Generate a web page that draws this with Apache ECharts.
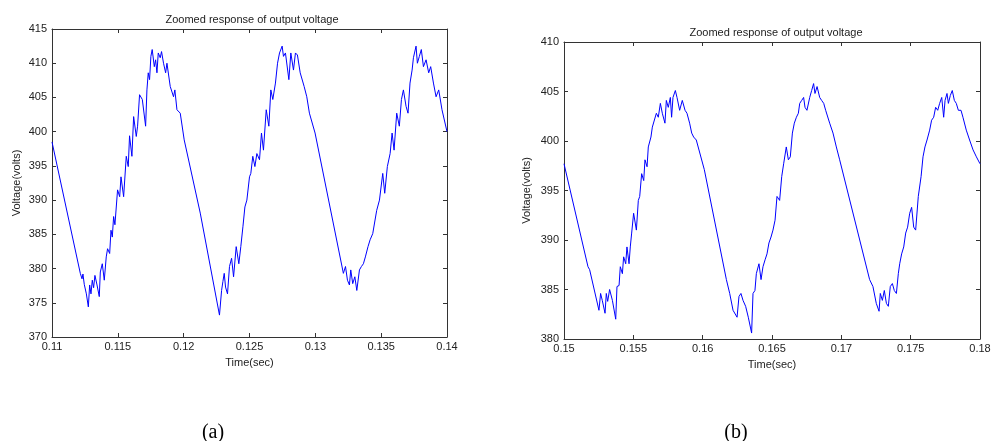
<!DOCTYPE html>
<html>
<head>
<meta charset="utf-8">
<script src="https://cdn.jsdelivr.net/npm/echarts@6/dist/echarts.min.js"></script>
<style>
html,body{margin:0;padding:0;background:#fff;}
#c{width:995px;height:441px;}
</style>
</head>
<body>
<div id="c"></div>
<script>
// ---- Data ----
const chartTitle = 'Zoomed response of output voltage';
const xName = 'Time(sec)';
const yName = 'Voltage(volts)';
const captions = ['(a)', '(b)'];

const leftTime = [0.11,0.11215,0.11228,0.11235,0.11245,0.11261,0.11276,0.11286,0.11296,0.11306,0.11316,0.11326,0.11342,0.11359,0.11367,0.11382,0.11397,0.11412,0.11422,0.11438,0.11448,0.11458,0.11468,0.11478,0.11498,0.11514,0.11524,0.11544,0.11564,0.11579,0.11589,0.11607,0.1162,0.1164,0.1165,0.11665,0.11686,0.11711,0.11721,0.11731,0.11741,0.11751,0.11761,0.11777,0.11787,0.11797,0.11807,0.11822,0.11832,0.11847,0.11863,0.11873,0.11898,0.11923,0.11933,0.11949,0.11974,0.12004,0.12126,0.12272,0.12288,0.12298,0.12308,0.12318,0.12333,0.12348,0.12364,0.12379,0.12399,0.12419,0.12434,0.1245,0.12465,0.1248,0.125,0.1251,0.12525,0.12541,0.12556,0.12576,0.12591,0.12606,0.12627,0.12647,0.12662,0.12677,0.12697,0.12713,0.12728,0.12748,0.12758,0.12773,0.12799,0.12814,0.12834,0.12849,0.12864,0.12885,0.129,0.12915,0.12935,0.12955,0.12998,0.13213,0.13229,0.13244,0.13259,0.13269,0.13284,0.133,0.13315,0.13335,0.1335,0.13365,0.1338,0.134,0.13416,0.13436,0.13451,0.13466,0.13487,0.13512,0.13527,0.13547,0.13568,0.13583,0.13598,0.13618,0.13638,0.13654,0.13669,0.13689,0.13704,0.13719,0.13735,0.13745,0.13765,0.13775,0.1379,0.13805,0.13821,0.13841,0.13861,0.13876,0.13897,0.13917,0.13937,0.13962,0.14];
const leftVolt = [398.5,379.3,378.5,379.2,377.7,376.3,374.4,377.6,376.3,378.3,377.2,379.0,377.6,375.9,379.5,380.7,378.3,381.7,382.9,382.2,385.6,384.6,387.6,386.4,391.5,390.5,393.4,390.5,396.4,394.9,399.4,396.4,402.2,399.3,400.8,405.4,404.7,400.8,406.1,408.6,407.6,411.0,412.0,409.5,410.5,408.6,411.5,410.8,411.7,410.0,408.6,410.0,406.6,405.1,406.1,403.2,402.7,398.8,388.1,373.2,376.8,378.1,379.3,377.3,376.3,380.3,381.5,378.8,383.2,380.7,383.2,386.1,389.0,390.0,393.4,393.9,396.4,394.9,396.8,395.9,399.8,397.3,403.2,400.8,406.1,404.7,407.1,410.0,411.5,412.5,411.0,411.5,407.6,411.5,409.0,411.5,411.2,408.6,408.8,406.6,405.1,402.7,399.8,379.3,380.3,378.3,377.6,379.8,377.8,378.8,376.8,379.8,380.3,380.7,381.7,383.2,384.2,385.1,386.8,388.5,390.0,393.9,391.0,394.9,396.8,399.8,397.3,402.7,400.8,404.7,406.1,403.7,402.7,407.1,409.0,410.8,412.5,410.0,411.0,412.0,409.5,410.5,408.6,409.5,407.1,405.1,406.1,403.2,400.0];

const rightTime = [0.15,0.15173,0.15185,0.15252,0.15264,0.15276,0.15296,0.15305,0.15315,0.15329,0.15349,0.15373,0.15382,0.15397,0.15406,0.15421,0.1543,0.15445,0.15454,0.15469,0.15478,0.15488,0.15502,0.15522,0.15536,0.15546,0.1556,0.15575,0.15584,0.15599,0.15608,0.15627,0.15637,0.15651,0.15666,0.1568,0.15695,0.15709,0.15728,0.15738,0.15752,0.15767,0.15776,0.15786,0.15803,0.15815,0.15834,0.15853,0.15873,0.15887,0.15906,0.15921,0.15935,0.15954,0.16012,0.16171,0.16195,0.16219,0.16248,0.16262,0.16276,0.16291,0.1631,0.16329,0.16353,0.16363,0.16377,0.16387,0.16406,0.16421,0.16435,0.1645,0.16464,0.16478,0.16493,0.16507,0.16522,0.16536,0.16555,0.1657,0.16584,0.16603,0.16618,0.16632,0.16647,0.16661,0.16676,0.1669,0.167,0.16714,0.16728,0.16738,0.16752,0.16772,0.16786,0.168,0.1681,0.16825,0.16844,0.16858,0.16873,0.16887,0.16916,0.1694,0.16964,0.16988,0.17204,0.17228,0.17252,0.17272,0.17281,0.17296,0.1731,0.17325,0.17339,0.17353,0.17368,0.17382,0.17397,0.17411,0.17421,0.17435,0.1745,0.17464,0.17478,0.17493,0.17507,0.17522,0.17536,0.17555,0.17575,0.17589,0.17603,0.17618,0.17637,0.17651,0.17666,0.1768,0.17695,0.17709,0.17724,0.17738,0.17748,0.17762,0.17772,0.17786,0.178,0.17815,0.17829,0.17844,0.17863,0.17877,0.17901,0.17925,0.1795,0.17974,0.18];
const rightVolt = [397.7,387.3,387.0,382.9,384.6,383.9,382.6,384.6,383.8,385.0,383.9,382.0,385.3,385.4,387.3,386.6,388.3,387.6,389.3,387.6,389.3,390.7,392.7,391.0,394.0,394.4,396.7,396.0,398.1,397.4,399.4,400.4,401.4,401.4,402.8,402.4,403.8,402.8,401.8,404.1,403.4,404.4,402.4,404.4,405.1,404.4,403.1,404.1,403.1,402.8,401.8,400.8,400.4,400.1,397.1,386.0,384.6,382.9,382.2,384.3,384.6,383.9,383.3,382.2,380.6,384.6,384.9,386.6,387.6,386.0,387.3,388.0,388.6,389.7,390.3,391.0,392.0,394.4,394.0,396.4,397.7,399.4,398.1,398.4,400.8,401.8,402.4,402.8,403.8,404.1,404.4,403.4,403.1,404.4,405.1,405.8,404.8,405.5,404.4,404.1,403.8,403.1,401.8,400.8,399.4,398.1,386.0,385.3,383.6,382.8,384.6,383.9,384.9,383.6,383.3,385.3,385.6,384.9,384.6,386.6,387.6,388.6,389.3,390.7,391.3,392.7,393.3,391.3,391.0,394.4,396.4,398.4,399.4,400.1,401.1,402.1,402.4,403.4,403.1,403.8,404.4,402.4,404.1,404.8,403.8,404.6,405.1,404.1,403.8,403.1,403.1,402.4,401.1,400.1,399.1,398.4,397.7];

const leftXTicks = {min: 0.11, max: 0.14, step: 0.005};
const leftYTicks = {min: 370, max: 415, step: 5};
const rightXTicks = {min: 0.15, max: 0.18, step: 0.005};
const rightYTicks = {min: 380, max: 410, step: 5};

// ---- Chart ----
const FONT = 'Liberation Sans, Arial, sans-serif';
const labelColor = '#222';
const axisColor = '#333';

function zip(a, b) { return a.map((v, i) => [v, b[i]]); }
function fmtX(v) { return String(parseFloat(v.toFixed(3))); }

function xAxes(gi, t) {
  const base = {
    type: 'value', gridIndex: gi, min: t.min, max: t.max, interval: t.step,
    splitLine: {show: false},
    axisLine: {show: true, onZero: false, lineStyle: {color: axisColor, width: 1}},
    axisTick: {show: true, inside: true, length: 4, lineStyle: {color: axisColor}}
  };
  return [
    Object.assign({}, base, {
      position: 'bottom', name: xName, nameLocation: 'middle', nameGap: 20,
      nameTextStyle: {fontFamily: FONT, fontSize: 11, color: labelColor},
      axisLabel: {fontFamily: FONT, fontSize: 11, color: labelColor, margin: 4, formatter: fmtX, hideOverlap: false}
    }),
    Object.assign({}, base, {position: 'top', axisLabel: {show: false}})
  ];
}
function yAxes(gi, t, gap) {
  const base = {
    type: 'value', gridIndex: gi, min: t.min, max: t.max, interval: t.step,
    splitLine: {show: false},
    axisLine: {show: true, onZero: false, lineStyle: {color: axisColor, width: 1}},
    axisTick: {show: true, inside: true, length: 4, lineStyle: {color: axisColor}}
  };
  return [
    Object.assign({}, base, {
      position: 'left', name: yName, nameLocation: 'middle', nameGap: gap,
      nameTextStyle: {fontFamily: FONT, fontSize: 11, color: labelColor},
      axisLabel: {fontFamily: FONT, fontSize: 11, color: labelColor, margin: 5}
    }),
    Object.assign({}, base, {position: 'right', axisLabel: {show: false}})
  ];
}

const chart = echarts.init(document.getElementById('c'), null, {renderer: 'canvas'});
chart.setOption({
  animation: false,
  backgroundColor: '#fff',
  title: [
    {text: chartTitle, left: 247, top: 9, textAlign: 'center',
     textStyle: {fontFamily: FONT, fontSize: 11, fontWeight: 'normal', color: labelColor}},
    {text: chartTitle, left: 771, top: 22, textAlign: 'center',
     textStyle: {fontFamily: FONT, fontSize: 11, fontWeight: 'normal', color: labelColor}},
    {text: captions[0], left: 208, top: 418, textAlign: 'center',
     textStyle: {fontFamily: 'Liberation Serif, Times New Roman, serif', fontSize: 20, fontWeight: 'normal', color: '#000'}},
    {text: captions[1], left: 731, top: 418, textAlign: 'center',
     textStyle: {fontFamily: 'Liberation Serif, Times New Roman, serif', fontSize: 20, fontWeight: 'normal', color: '#000'}}
  ],
  grid: [
    {left: 52, right: 548, top: 29, bottom: 104},
    {left: 564, right: 15, top: 42, bottom: 102}
  ],
  xAxis: xAxes(0, leftXTicks).concat(xAxes(1, rightXTicks)),
  yAxis: yAxes(0, leftYTicks, 30).concat(yAxes(1, rightYTicks, 32)),
  series: [
    {type: 'line', xAxisIndex: 0, yAxisIndex: 0, data: zip(leftTime, leftVolt),
     showSymbol: false, lineStyle: {color: '#0000ff', width: 1}, itemStyle: {color: '#0000ff'}},
    {type: 'line', xAxisIndex: 2, yAxisIndex: 2, data: zip(rightTime, rightVolt),
     showSymbol: false, lineStyle: {color: '#0000ff', width: 1}, itemStyle: {color: '#0000ff'}}
  ]
});
</script>
</body>
</html>
